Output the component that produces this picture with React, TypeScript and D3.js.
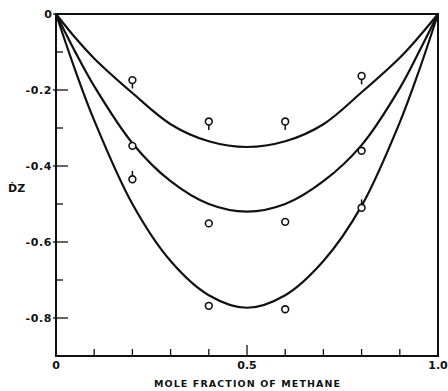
import React from "react";
import * as d3 from "d3";

const curveX = [0, 0.05, 0.1, 0.2, 0.3, 0.4, 0.5, 0.6, 0.7, 0.8, 0.9, 0.95, 1];
const curveTop = [0, -0.062, -0.117, -0.208, -0.29, -0.335, -0.35, -0.335, -0.29, -0.206, -0.115, -0.06, 0];
const curveMid = [0, -0.099, -0.19, -0.34, -0.44, -0.5, -0.52, -0.5, -0.44, -0.345, -0.195, -0.1, 0];
const curveLow = [0, -0.147, -0.28, -0.5, -0.65, -0.74, -0.773, -0.74, -0.65, -0.505, -0.285, -0.15, 0];

const pointX = [0.2, 0.4, 0.6, 0.8, 0.2, 0.4, 0.6, 0.8, 0.2, 0.4, 0.6, 0.8];
const pointY = [-0.174, -0.283, -0.283, -0.163, -0.347, -0.551, -0.547, -0.36, -0.435, -0.768, -0.777, -0.51];
const pointStem = ["down", "down", "down", "down", "none", "none", "none", "none", "up", "none", "none", "up"];

const xTickValues = [0, 0.1, 0.2, 0.3, 0.4, 0.5, 0.6, 0.7, 0.8, 0.9, 1.0];
const xTickLabels = [
  { v: 0, t: "0" },
  { v: 0.5, t: "0.5" },
  { v: 1.0, t: "1.0" },
];
const yTickValues = [0, -0.1, -0.2, -0.3, -0.4, -0.5, -0.6, -0.7, -0.8, -0.9];
const yTickLabels = [
  { v: 0, t: "0" },
  { v: -0.2, t: "-0.2" },
  { v: -0.4, t: "-0.4" },
  { v: -0.6, t: "-0.6" },
  { v: -0.8, t: "-0.8" },
];
const xTitle = "MOLE FRACTION OF METHANE";
const yTitle = "ḊZ";

export default function App() {
  const x = d3.scaleLinear().domain([0, 1]).range([56, 438]);
  const y = d3.scaleLinear().domain([-0.9, 0]).range([356, 14]);
  const line = d3
    .line<number>()
    .x((_, i) => x(curveX[i]))
    .y((d) => y(d))
    .curve(d3.curveCatmullRom.alpha(0.5));
  const font = "'DejaVu Sans', sans-serif";
  const ink = "#111";
  const r = 3.4;
  return (
    <svg
      width={448}
      height={391}
      style={{ position: "absolute", left: 0, top: 0, background: "#fff" }}
    >
      <rect
        x={x(0)}
        y={y(0)}
        width={x(1) - x(0)}
        height={y(-0.9) - y(0)}
        fill="none"
        stroke={ink}
        strokeWidth={2}
      />
      {xTickValues.map((v, i) => {
        const major = Math.abs(v - 0.5) < 1e-9;
        return (
          <line
            key={"xt" + i}
            x1={x(v)}
            x2={x(v)}
            y1={y(-0.9)}
            y2={y(-0.9) - (major ? 11 : 7)}
            stroke={ink}
            strokeWidth={1.3}
          />
        );
      })}
      {yTickValues.map((v, i) => {
        const major = Math.round(v * 10) % 2 === 0;
        return (
          <line
            key={"yt" + i}
            x1={x(0) - (major ? 3 : 0)}
            x2={x(0) + (major ? 12 : 7)}
            y1={y(v)}
            y2={y(v)}
            stroke={ink}
            strokeWidth={1.3}
          />
        );
      })}
      {xTickLabels.map((d, i) => (
        <text
          key={"xl" + i}
          x={x(d.v)}
          y={y(-0.9) + 13}
          textAnchor="middle"
          fontFamily={font}
          fontWeight="bold"
          fontSize={11}
          fill={ink}
        >
          {d.t}
        </text>
      ))}
      {yTickLabels.map((d, i) => (
        <text
          key={"yl" + i}
          x={52}
          y={y(d.v) + 4}
          textAnchor="end"
          fontFamily={font}
          fontWeight="bold"
          fontSize={11}
          letterSpacing={d.v === 0 ? 0 : 0.6}
          fill={ink}
        >
          {d.t}
        </text>
      ))}
      <text
        x={8}
        y={192}
        fontFamily={font}
        fontWeight="bold"
        fontSize={11}
        fill={ink}
      >
        {yTitle}
      </text>
      <text
        x={(x(0) + x(1)) / 2}
        y={387}
        textAnchor="middle"
        fontFamily={font}
        fontWeight="bold"
        fontSize={9.5}
        textLength={186}
        lengthAdjust="spacing"
        fill={ink}
      >
        {xTitle}
      </text>
      {[curveTop, curveMid, curveLow].map((c, i) => (
        <path
          key={"c" + i}
          d={line(c) || ""}
          fill="none"
          stroke={ink}
          strokeWidth={2.2}
        />
      ))}
      {pointX.map((px, i) => {
        const cx = x(px);
        const cy = y(pointY[i]);
        const s = pointStem[i];
        return (
          <g key={"p" + i}>
            {s === "down" && (
              <line x1={cx} x2={cx} y1={cy + r} y2={cy + r + 5} stroke={ink} strokeWidth={1.5} />
            )}
            {s === "up" && (
              <line x1={cx} x2={cx} y1={cy - r} y2={cy - r - 5} stroke={ink} strokeWidth={1.5} />
            )}
            <circle cx={cx} cy={cy} r={r} fill="#fff" stroke={ink} strokeWidth={1.6} />
          </g>
        );
      })}
    </svg>
  );
}
